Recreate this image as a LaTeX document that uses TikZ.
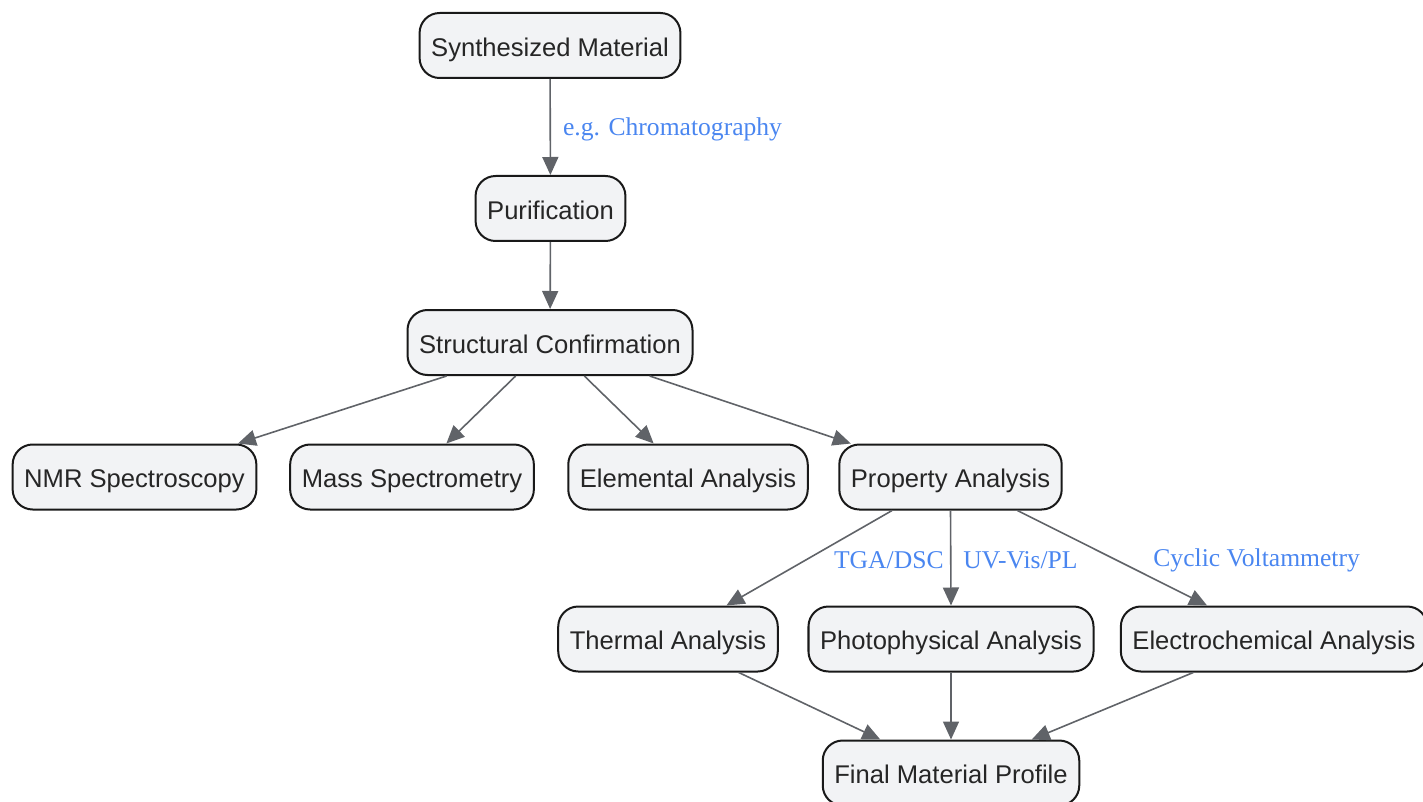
\documentclass[tikz,border=0pt]{standalone}
\usepackage{fontspec}
\setmainfont{Liberation Serif}
\setsansfont{Liberation Sans}
\usetikzlibrary{arrows.meta}
\definecolor{boxfill}{HTML}{F2F3F5}
\definecolor{edgegray}{HTML}{606368}
\definecolor{lblblue}{HTML}{4A86F0}

\tikzset{
  stage/.style={draw=black!90, line width=1pt, fill=boxfill, rounded corners=10pt,
    minimum height=32.5pt, inner xsep=5.8pt, text=black!85,
    text height=12pt, text depth=1.3pt,
    font=\sffamily\fontsize{12.8}{15}\selectfont},
  flow/.style={draw=edgegray, line width=0.8pt, -{Triangle[length=9pt,width=8pt]}},
  lbl/.style={text=lblblue, inner sep=0pt, yshift=-1pt, font=\fontsize{12.8}{15}\selectfont}
}

\begin{document}
\begin{tikzpicture}[x=0.5pt,y=-0.5pt]
  \useasboundingbox (0,0) rectangle (1423,802);

  \node[stage] (syn) at (550,45.5) {Synthesized Material};
  \node[stage] (pur) at (550.5,208.5) {Purification};
  \node[stage] (struct) at (550,342.5) {Structural Confirmation};

  \node[stage] (nmr) at (134.5,477) {NMR Spectroscopy};
  \node[stage] (mass) at (412,477) {Mass Spectrometry};
  \node[stage] (elem) at (688,477) {Elemental Analysis};
  \node[stage] (prop) at (950.5,477) {Property Analysis};

  \node[stage] (therm) at (668,639) {Thermal Analysis};
  \node[stage] (photo) at (951,639) {Photophysical Analysis};
  \node[stage] (echem) at (1274,639) {Electrochemical Analysis};
  \node[stage] (final) at (951,773) {Final Material Profile};

  \draw[flow] (syn) -- node[lbl, right, xshift=6pt] {e.g. Chromatography} (pur);
  \draw[flow] (pur) -- (struct);

  \foreach \t in {nmr,mass,elem,prop}
    \draw[flow] (struct) -- (\t);

  \draw[flow] (prop) -- (therm);
  \draw[flow] (prop.south) -- (photo.north);
  \draw[flow] (prop) -- (echem);
  \node[lbl, anchor=east] (tga) at (944,558) {TGA/DSC};
  \node[lbl, anchor=west] (uvvis) at (963,558) {UV-Vis/PL};
  \node[lbl, anchor=west] (cv) at (1153,558) {Cyclic Voltammetry};

  \draw[flow] (therm) -- (final);
  \draw[flow] (photo.south) -- (final.north);
  \draw[flow] (echem) -- (final);
\end{tikzpicture}
\end{document}
